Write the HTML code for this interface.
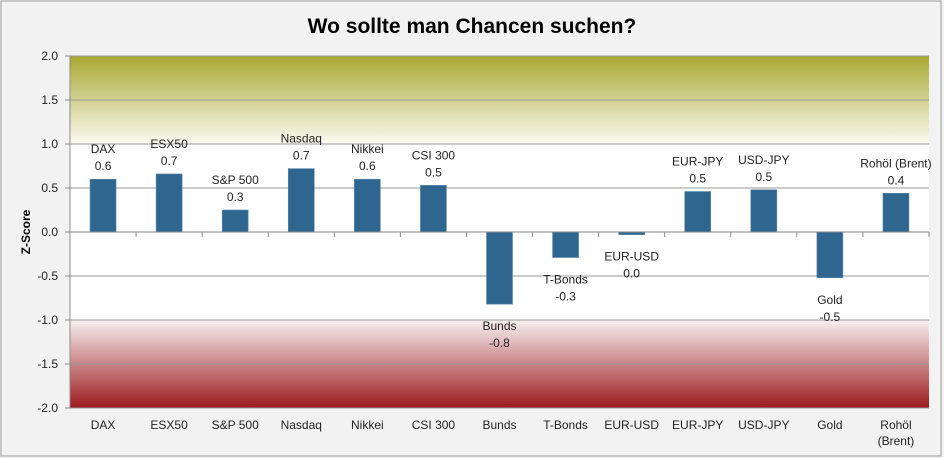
<!DOCTYPE html>
<html><head><meta charset="utf-8"><style>
html,body{margin:0;padding:0;background:#f2f2f2;}
svg{display:block;font-family:"Liberation Sans",Calibri,sans-serif;}
</style></head><body>
<svg id="chart" width="944" height="458" viewBox="0 0 944 458">
<defs>
<linearGradient id="gTop" x1="0" y1="0" x2="0" y2="1">
<stop offset="0" stop-color="#a8a832"/><stop offset="1" stop-color="#fbfbf3"/>
</linearGradient>
<linearGradient id="gBot" x1="0" y1="0" x2="0" y2="1">
<stop offset="0" stop-color="#f8f0f0"/><stop offset="1" stop-color="#9c1a1e"/>
</linearGradient>
</defs>
<rect x="1" y="1" width="940" height="455" fill="#f2f2f2" stroke="#9a9a9a"/>
<text x="472" y="33" text-anchor="middle" font-size="21" font-weight="bold" fill="#000">Wo sollte man Chancen suchen?</text>
<g id="plot"></g>
<text transform="translate(30,232) rotate(-90)" text-anchor="middle" font-size="12" font-weight="bold">Z-Score</text>
</svg>
<script>
const categories=["DAX","ESX50","S&P 500","Nasdaq","Nikkei","CSI 300","Bunds","T-Bonds","EUR-USD","EUR-JPY","USD-JPY","Gold","Rohöl (Brent)"];
const axisLabels=["DAX","ESX50","S&P 500","Nasdaq","Nikkei","CSI 300","Bunds","T-Bonds","EUR-USD","EUR-JPY","USD-JPY","Gold","Rohöl|(Brent)"];
const values=[0.6,0.66,0.25,0.72,0.6,0.53,-0.82,-0.29,-0.03,0.46,0.48,-0.52,0.44];
const printed=["0.6","0.7","0.3","0.7","0.6","0.5","-0.8","-0.3","0.0","0.5","0.5","-0.5","0.4"];
const yTicks=[2.0,1.5,1.0,0.5,0.0,-0.5,-1.0,-1.5,-2.0];

const L=70,R=929,T=56,B=408,yMin=-2,yMax=2;
const y=v=>T+(yMax-v)/(yMax-yMin)*(B-T);
const bw=(R-L)/categories.length;
const xc=i=>L+bw*(i+0.5);
const NS="http://www.w3.org/2000/svg";
const g=document.getElementById('plot');
function mk(t,a,p){const e=document.createElementNS(NS,t);for(const k in a)e.setAttribute(k,a[k]);(p||g).appendChild(e);return e;}

mk('rect',{x:L,y:B-(B-T),width:R-L,height:B-T,fill:'#fff'});
let e=mk('rect',{x:L,y:y(2),width:R-L,height:y(1)-y(2),fill:'url(#gTop)'});


e=mk('rect',{x:L,y:y(-1),width:R-L,height:y(-2)-y(-1),fill:'url(#gBot)'});



yTicks.forEach(v=>{
  const l=mk('line',{x1:L,x2:R,y1:y(v),y2:y(v),stroke:'#9a9a9a','stroke-width':1});
  
  
  mk('line',{x1:L-5,x2:L,y1:y(v),y2:y(v),stroke:'#8a8a8a'});
  const t=mk('text',{x:L-12,y:y(v)+4,'text-anchor':'end','font-size':12,fill:'#222'});
  t.textContent=v.toFixed(1);
  
  
});
mk('line',{x1:L,x2:L,y1:T,y2:B,stroke:'#8a8a8a'});

categories.forEach((c,i)=>{
  const v=values[i];
  const top=y(Math.max(v,0)),bot=y(Math.min(v,0));
  const r=mk('rect',{x:xc(i)-13,y:top,width:26,height:Math.max(bot-top,1),fill:'#2e6690',stroke:'#5d8bb0','stroke-width':0.6});
  
  
  const lines=[c,printed[i]];
  const base=v>=0?top-38:bot+14;
  lines.forEach((s,k)=>{
    const t=mk('text',{x:xc(i),y:base+k*17+12,'text-anchor':'middle','font-size':12,fill:'#222'});
    t.textContent=s;
    
    
  });
  axisLabels[i].split('|').forEach((s,k)=>{
    const t=mk('text',{x:xc(i),y:429+k*16,'text-anchor':'middle','font-size':12,fill:'#222'});
    t.textContent=s;
    
    
  });
});
mk('line',{x1:L,x2:R,y1:y(0),y2:y(0),stroke:'#8a8a8a'});
for(let i=0;i<=categories.length;i++) mk('line',{x1:L+bw*i,x2:L+bw*i,y1:y(0),y2:y(0)+5,stroke:'#8a8a8a'});
</script>
</body></html>
